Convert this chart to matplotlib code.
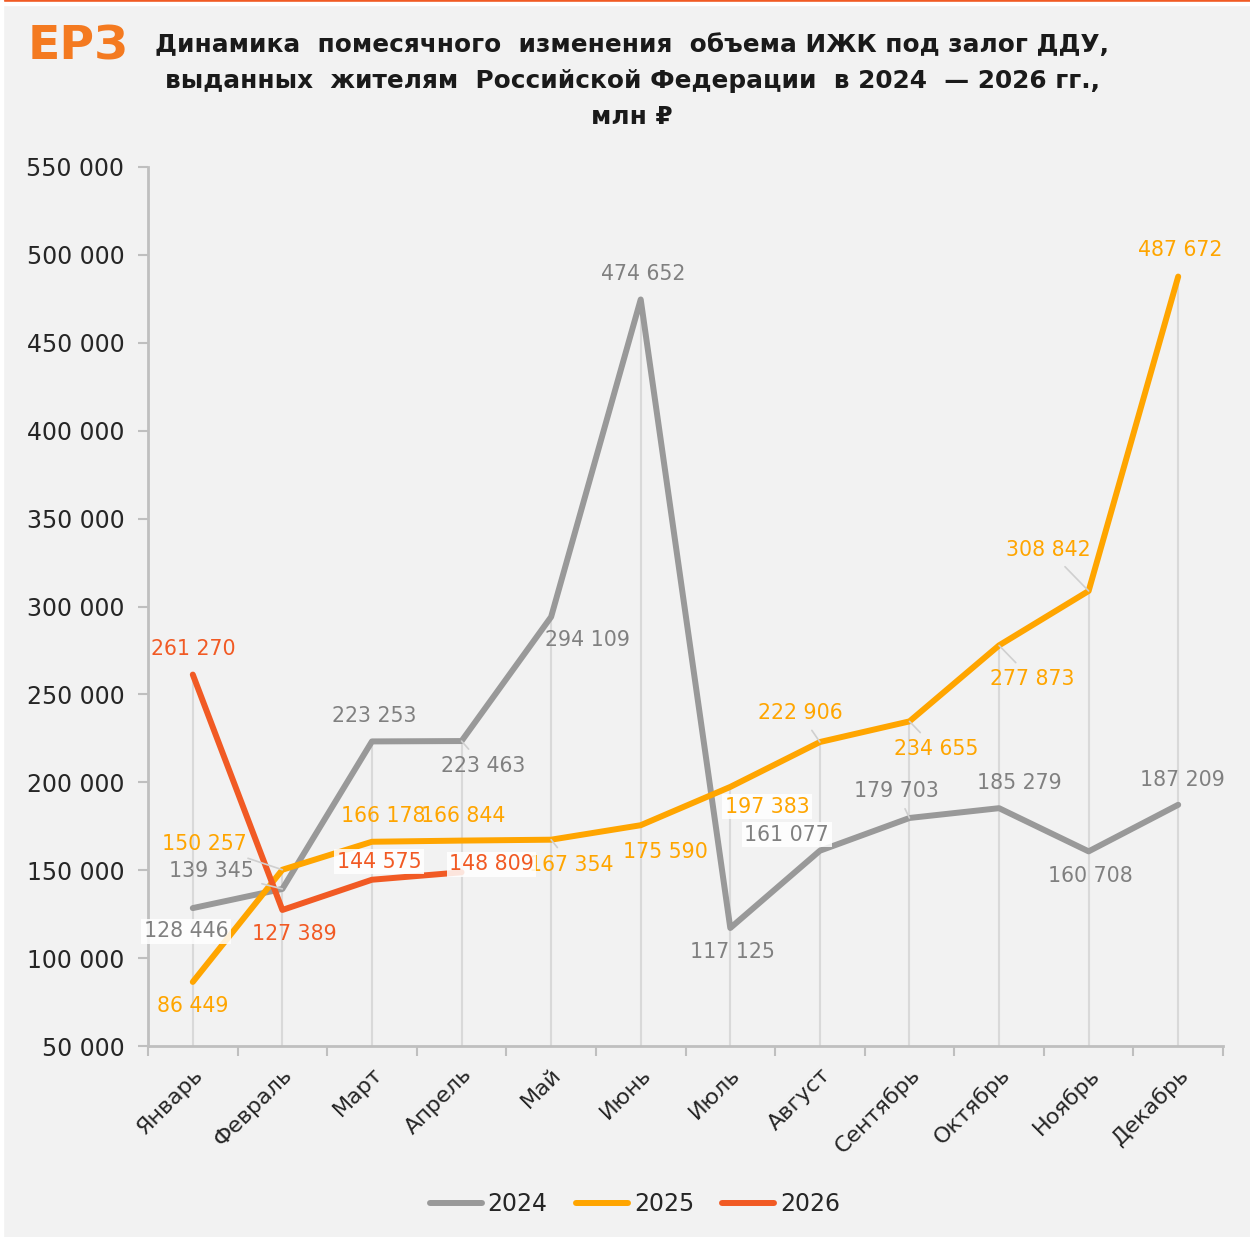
import matplotlib
matplotlib.use("Agg")
import matplotlib.pyplot as plt
from matplotlib.patches import Rectangle
import numpy as np

plt.rcParams['font.family'] = ['DejaVu Sans']

months = ["Январь", "Февраль", "Март", "Апрель", "Май", "Июнь", "Июль",
          "Август", "Сентябрь", "Октябрь", "Ноябрь", "Декабрь"]
years = ["2024", "2025", "2026"]
v2024 = [128446, 139345, 223253, 223463, 294109, 474652, 117125, 161077, 179703, 185279, 160708, 187209]
v2025 = [86449, 150257, 166178, 166844, 167354, 175590, 197383, 222906, 234655, 277873, 308842, 487672]
v2026 = [261270, 127389, 144575, 148809]
yticks = [50000, 100000, 150000, 200000, 250000, 300000, 350000, 400000, 450000, 500000, 550000]

title = ("Динамика  помесячного  изменения  объема ИЖК под залог ДДУ,\n"
         "выданных  жителям  Российской Федерации  в 2024  — 2026 гг.,\n"
         "млн ₽")

# styles
line_colors = ["#999999", "#FFA500", "#F15A24"]
text_colors = ["#808080", "#FFA500", "#F15A24"]

# label layout: (dx, dy in pixels, leader line, white box)
lay2024 = [(-7, -23, False, True), (-71, 18, True, False), (2, 25, False, False), (22, -25, True, False),
           (36, -23, False, False), (2, 25, False, False), (2, -24, False, False), (-33, 16, False, True),
           (-13, 27, True, False), (20, 25, False, False), (2, -25, False, False), (4, 25, False, False)]
lay2025 = [(0, -24, False, False), (-78, 26, True, False), (11, 26, False, False), (2, 25, False, False),
           (20, -25, True, False), (25, -27, False, False), (37, -20, False, True), (-20, 29, True, False),
           (27, -28, True, False), (33, -34, True, False), (-40, 41, True, False), (2, 27, False, False)]
lay2026 = [(1, 26, False, False), (12, -24, False, False), (7, 18, False, True), (30, 8, False, True)]

W, H = 1250, 1237
fig = plt.figure(figsize=(W / 100, H / 100), dpi=100)
fig.patch.set_facecolor("#F2F2F2")
# top orange bar and white margins
fig.add_artist(Rectangle((0, 1 - 2 / H), 1, 2 / H, transform=fig.transFigure, color="#F15A24", zorder=0))
fig.add_artist(Rectangle((0, 1 - 5 / H), 1, 3 / H, transform=fig.transFigure, color="white", zorder=0))
fig.add_artist(Rectangle((0, 0), 3 / W, 1, transform=fig.transFigure, color="white", zorder=0))

ax = fig.add_axes([148 / W, 1 - 1046 / H, (1223 - 148) / W, (1046 - 167) / H])
ax.set_facecolor("none")

x = np.arange(len(months))
series = [v2024, v2025, v2026]
layouts = [lay2024, lay2025, lay2026]

# drop lines from highest point to axis
tops = [max(s[i] for s in series if i < len(s)) for i in range(len(months))]
ax.vlines(x, yticks[0], tops, colors="#D9D9D9", lw=1.5, zorder=1)

for k, (vals, lay) in enumerate(zip(series, layouts)):
    xs = x[:len(vals)]
    ax.plot(xs, vals, color=line_colors[k], lw=4.3, solid_capstyle="round",
            solid_joinstyle="round", label=years[k], zorder=3 + k)
    for xi, v, (dx, dy, leader, box) in zip(xs, vals, lay):
        txt = f"{v:,}".replace(",", " ")
        kw = {}
        if leader:
            kw["arrowprops"] = dict(arrowstyle="-", color="#CFCFCF", lw=1.2, shrinkA=4, shrinkB=0)
        bbox = dict(boxstyle="square,pad=0.12", fc="white", ec="none", alpha=0.85) if box else None
        ax.annotate(txt, (xi, v), xytext=(dx, dy), textcoords="offset pixels",
                    ha="center", va="center", fontsize=14.8, color=text_colors[k],
                    bbox=bbox, zorder=10, **kw)

ax.set_xlim(-0.5, len(months) - 0.5)
ax.set_ylim(yticks[0], yticks[-1])
ax.set_yticks(yticks)
ax.set_yticklabels([f"{t:,}".replace(",", " ") for t in yticks], fontsize=17, color="#262626")
ax.set_xticks(x)
ax.set_xticklabels(months, rotation=45, ha="right", rotation_mode="anchor", fontsize=16, color="#262626")
ax.set_xticks(np.arange(-0.5, len(months)), minor=True)
ax.tick_params(axis="x", which="major", length=0, pad=13)
ax.tick_params(axis="x", which="minor", length=7, color="#BFBFBF", width=1.5)
ax.tick_params(axis="y", length=7, color="#BFBFBF", width=1.5, pad=10)
for s in ["top", "right"]:
    ax.spines[s].set_visible(False)
for s in ["left", "bottom"]:
    ax.spines[s].set_color("#BFBFBF")
    ax.spines[s].set_linewidth(2)

fig.text(632 / W, 1 - 81 / H, title, ha="center", va="center", fontsize=17.8,
         fontweight="bold", color="#1A1A1A", linespacing=1.62)
fig.text(28 / W, 1 - 47 / H, "ЕРЗ", ha="left", va="center", fontsize=34,
         fontweight="bold", color="#F47A20")

leg = fig.legend(loc="center", bbox_to_anchor=(635 / W, 1 - 1204 / H), ncol=3, frameon=False,
                 fontsize=17, handlelength=2.2, columnspacing=1.2, handletextpad=0.25)
for t in leg.get_texts():
    t.set_color("#262626")

fig.savefig("out.png", dpi=100, facecolor=fig.get_facecolor())
